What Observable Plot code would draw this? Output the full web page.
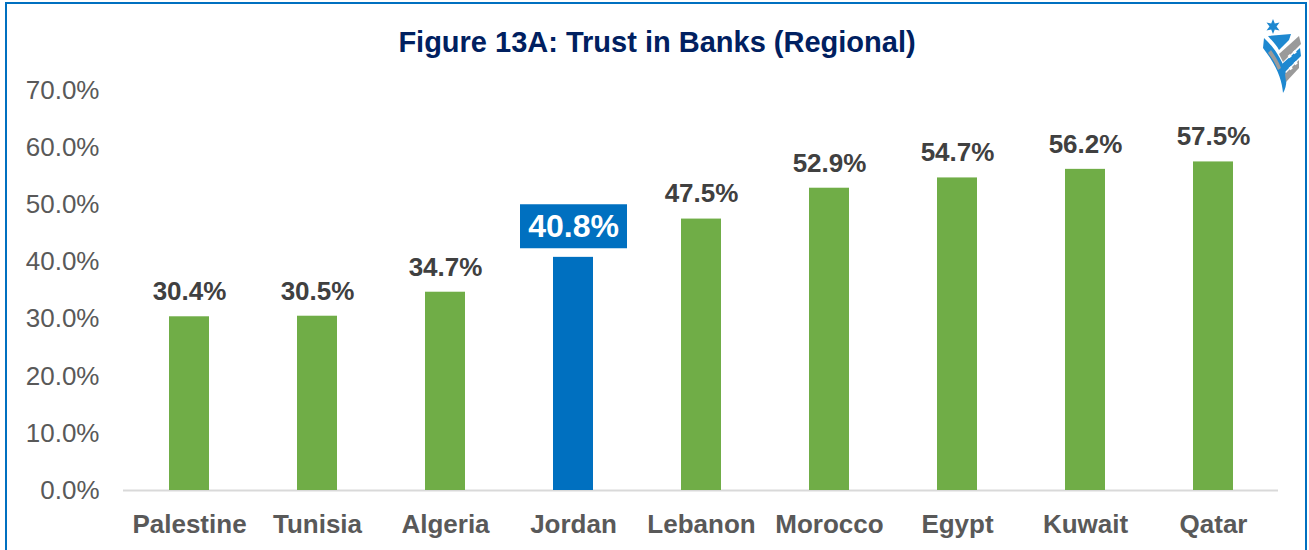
<!DOCTYPE html>
<html><head><meta charset="utf-8">
<script src="https://cdn.jsdelivr.net/npm/d3@7"></script>
<script src="https://cdn.jsdelivr.net/npm/@observablehq/plot@0.6"></script>
<style>
html,body{margin:0;padding:0;background:#fff;}
#wrap{position:relative;width:1309px;height:550px;overflow:hidden;font-family:"Liberation Sans",Arial,sans-serif;}
#frame{position:absolute;left:5px;top:2px;width:1302px;height:560px;border:2px solid #0070C0;box-sizing:border-box;}
#title{position:absolute;left:0;top:25px;width:1314px;text-align:center;font-weight:bold;font-size:29px;line-height:34px;color:#002060;}
#chart{position:absolute;left:0;top:0;}
#logo{position:absolute;left:1261px;top:16px;}
</style></head>
<body>
<div id="wrap">
  <div id="frame"></div>
  <div id="chart"></div>
  <div id="title">Figure 13A: Trust in Banks (Regional)</div>
  <svg id="logo" width="44" height="80" viewBox="0 0 44 80">
    <polygon points="12,3 13.8,7.5 18.5,6.5 15.5,10.5 18.5,14.5 13.8,13.5 12,18 10.2,13.5 5.5,14.5 8.5,10.5 5.5,6.5 10.2,7.5" fill="#1E88D0"/>
    <path d="M3,22 C12,30 22,44 25,58 C26,66 25,72 22,77 C21,64 16,50 2,32 Z" fill="#1E88D0"/>
    <path d="M7,20 C12,26 16,30 18,34 L28,24 L30,18 Z" fill="#1E88D0"/>
    <path d="M38,20 L40,28 L22,46 L18,38 Z" fill="#9A9A9A"/>
    <path d="M39,32 L40,40 L24,56 L21,48 Z" fill="#1E88D0"/>
    <path d="M38,44 L38,52 L25,66 L24,58 Z" fill="#9A9A9A"/>
    <rect x="27" y="39" width="3" height="3" fill="#fff" transform="rotate(-40 28 40)"/>
    <rect x="32" y="35" width="3" height="3" fill="#fff" transform="rotate(-40 33 36)"/>
    <rect x="28" y="51" width="3" height="3" fill="#fff" transform="rotate(-40 29 52)"/>
    <rect x="33" y="46" width="3" height="3" fill="#fff" transform="rotate(-40 34 47)"/>
    <path d="M10,34 C14,40 18,46 20,52 L17,54 C14,47 11,42 7,37 Z" fill="#9A9A9A"/>
  </svg>
</div>
<script>
const countries = ["Palestine","Tunisia","Algeria","Jordan","Lebanon","Morocco","Egypt","Kuwait","Qatar"];
const trust = [30.4, 30.5, 34.7, 40.8, 47.5, 52.9, 54.7, 56.2, 57.5];
const highlight = "Jordan";
const yTicks = [0,10,20,30,40,50,60,70];

const data = countries.map((c,i)=>({country:c, value:trust[i], hi:c===highlight}));
const others = data.filter(d=>!d.hi);
const hiData = data.filter(d=>d.hi);

const boxSymbol = {draw(ctx){ ctx.rect(-53.5,-22,107,44); }};
const fmt = d=>d.toFixed(1)+"%";

const chart = Plot.plot({
  width:1309, height:550,
  marginTop:90, marginBottom:60, marginLeft:123, marginRight:31,
  style:{fontFamily:"'Liberation Sans', Arial, sans-serif", background:"transparent"},
  x:{domain:countries, paddingInner:0.69, paddingOuter:0.345, label:null},
  y:{domain:[0,70], label:null},
  marks:[
    Plot.axisY({ticks:yTicks, tickFormat:fmt, tickSize:0, tickPadding:24, fontSize:26, fill:"#595959", label:null}),
    Plot.axisX({tickSize:0, tickPadding:24, fontSize:26, fontWeight:"bold", fill:"#595959", label:null}),
    Plot.ruleY([0], {stroke:"#D9D9D9", strokeWidth:2}),
    Plot.barY(data, {x:"country", y:"value", fill:d=>d.hi?"#0070C0":"#70AD47"}),
    Plot.text(others, {x:"country", y:"value", text:d=>fmt(d.value), dy:-25, fontSize:26, fontWeight:"bold", fill:"#404040"}),
    Plot.dot(hiData, {x:"country", y:"value", dy:-31, symbol:boxSymbol, fill:"#0070C0", stroke:null}),
    Plot.text(hiData, {x:"country", y:"value", text:d=>fmt(d.value), dy:-31, fontSize:32, fontWeight:"bold", fill:"#fff"})
  ]
});
document.getElementById("chart").appendChild(chart);
</script>
</body></html>
